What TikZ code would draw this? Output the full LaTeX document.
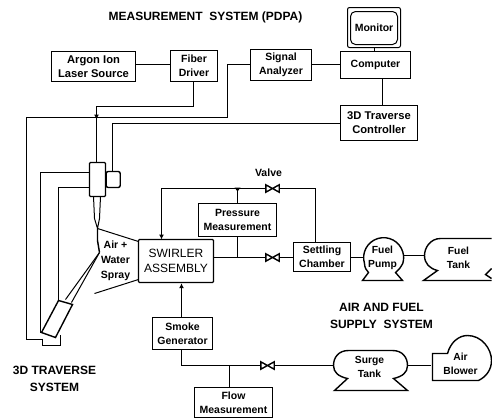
\documentclass[tikz,border=0pt]{standalone}
\usepackage{fontspec}
\setmainfont{Liberation Sans}
\usetikzlibrary{arrows.meta}
\newcommand{\valvesym}[3]{%
  \node[valvebox] (#1) at (#2,#3) {};
  \draw[conn,fill=white] (#1.north west) -- (#1.south east) -- (#1.north east) -- (#1.south west) -- cycle;
}
\tikzset{
  conn/.style={line width=1.4pt,black},
  blockbox/.style={draw,line width=1.4pt,align=center,inner sep=0pt,font=\fontsize{10.5}{14}\selectfont\bfseries},
  plainlabel/.style={align=center,inner sep=0pt,font=\fontsize{10.5}{14}\selectfont\bfseries},
  titlelabel/.style={align=center,inner sep=0pt,font=\fontsize{12}{17}\selectfont\bfseries},
  valvebox/.style={inner sep=0pt,minimum width=13pt,minimum height=7pt},
  ghost/.style={inner sep=0pt,align=center,font=\fontsize{10.3}{14}\selectfont\bfseries},
  tip/.style={-{Latex[length=5pt,width=5pt]}}
}
\begin{document}
\begin{tikzpicture}[x=1pt,y=-1pt]
\useasboundingbox (-0.5,-0.5) rectangle (491.5,417.5);
% Titles
\node[titlelabel] (t1) at (205,17) {MEASUREMENT\ \ SYSTEM (PDPA)};
\node[titlelabel] (t2) at (54,378.5) {3D TRAVERSE\\SYSTEM};
\node[titlelabel] (t3) at (381,315.5) {AIR AND FUEL\\SUPPLY\ \ SYSTEM};
% Boxes: measurement
\node[blockbox,font=\fontsize{11.2}{14}\selectfont\bfseries,minimum width=84pt,minimum height=30pt] (argon) at (93,66) {Argon Ion\\Laser Source};
\node[blockbox,minimum width=47pt,minimum height=31pt] (fiber) at (193.5,65.5) {Fiber\\Driver};
\node[blockbox,minimum width=61pt,minimum height=31pt] (signal) at (280.5,64.5) {Signal\\Analyzer};
\node[blockbox,minimum width=70pt,minimum height=27pt] (computer) at (375,64.5) {Computer};
\node[blockbox,font=\fontsize{11.2}{14}\selectfont\bfseries,minimum width=77pt,minimum height=35pt] (ctrl) at (378.5,122.5) {3D Traverse\\Controller};
\node[blockbox,line width=1pt,rounded corners=2pt,minimum width=53pt,minimum height=40pt] (monout) at (373.5,27) {};
\node[blockbox,line width=1pt,rounded corners=5pt,minimum width=47pt,minimum height=33pt] (monitor) at (373.5,27.5) {Monitor};
% Boxes: flow
\node[blockbox,font=\fontsize{12}{15}\selectfont,rounded corners=1pt,minimum width=75pt,minimum height=43pt] (swirler) at (175.5,260.5) {SWIRLER\\ASSEMBLY};
\node[blockbox,minimum width=78pt,minimum height=33pt] (pressure) at (237,219.5) {Pressure\\Measurement};
\node[blockbox,minimum width=57pt,minimum height=29pt] (settling) at (321.5,256.5) {Settling\\Chamber};
\node[blockbox,minimum width=60pt,minimum height=32pt] (smoke) at (182,333) {Smoke\\Generator};
\node[blockbox,minimum width=78pt,minimum height=30pt] (flow) at (233,402) {Flow\\Measurement};
\node[plainlabel,font=\fontsize{10.5}{15}\selectfont\bfseries] (spray) at (115,260) {Air +\\Water\\Spray};
\node[plainlabel] (valvelabel) at (268,172) {Valve};
% Pump, tanks
\node[ghost,minimum width=40pt,minimum height=40pt] (pump) at (382,257) {Fuel\\Pump};
\draw[conn] (364,263) arc[start angle=163,end angle=377,radius=20] .. controls (400,267) and (398,270) .. (395,272) -- (402,280) -- (362,280) -- (368,272) .. controls (366,270) and (364,267) .. (364,263);
\node[ghost,minimum width=64pt,minimum height=32pt] (fueltank) at (458,257) {Fuel\\Tank};
\draw[conn] (491,238) -- (440,238) .. controls (430,238) and (424,247) .. (424,255) .. controls (424,263) and (429,268) .. (437,270) -- (423,280) -- (491,280);
\draw[conn] (491,268) -- (485,274) -- (491,278);
\node[ghost,minimum width=74pt,minimum height=30pt] (surge) at (369,366) {Surge\\Tank};
\draw[conn] (348,350) -- (392,350) .. controls (402,350) and (407,357) .. (407,365) .. controls (407,372) and (402,376) .. (393,378) -- (407,390) -- (334,390) -- (347,378) .. controls (338,376) and (333,372) .. (333,365) .. controls (333,357) and (338,350) .. (348,350) -- cycle;
\node[ghost,minimum width=58pt,minimum height=28pt] (blower) at (460,363) {Air\\Blower};
\draw[conn] (432,380) -- (432,353) -- (447,353) .. controls (450,342) and (458,335) .. (467,335) .. controls (481,335) and (491,348) .. (491,360) .. controls (491,369) and (486,376) .. (478,380) -- cycle;
% Valves
\valvesym{vtop}{272}{188}
\valvesym{vmid}{272}{257}
\valvesym{vlow}{267}{365}
% Probe head
\node[draw,line width=1.4pt,inner sep=0pt,rounded corners=1pt,minimum width=16pt,minimum height=34pt] (body) at (97,179) {};
\node[draw,line width=1.4pt,inner sep=0pt,rounded corners=2pt,minimum width=14pt,minimum height=16pt,anchor=west] (side) at (105,179) {};
\draw[conn,line width=1pt] (93,196) -- (94,218) -- (97,228) -- (99,218) -- (100,196);
\coordinate (tiptop) at (97,228);
\draw[conn] (tiptop) -- (97,240) -- (99,252);
% Receiver probe
\draw[conn,line width=1pt] (99,252) -- (65,299);
\draw[conn,line width=1pt] (99,252) -- (71,302);
\draw[conn,fill=white] (58,300) -- (72,304) -- (55,337) -- (41,332) -- cycle;
\draw[conn] (42,338) -- (42,345) -- (60,345) -- (60,334);
\coordinate (rec) at (42,339);
% Spray cone
\coordinate (sprayup) at (97,228);
\coordinate (spraylow) at (94,293);
\draw[conn,line width=1pt] (sprayup) -- (138,241);
\draw[conn,line width=1pt] (spraylow) -- (138,279);
% Connectors
\draw[conn] (argon.east |- 0,64) -- (fiber.west |- 0,64);
\draw[conn] (signal.east |- 0,64) -- (computer.west |- 0,64);
\draw[conn] (monout.south -| 374,0) -- (computer.north -| 374,0);
\draw[conn,line width=1.7pt] (computer.south -| 382,0) -- (ctrl.north -| 382,0);
\draw[conn] (fiber.south -| 193,0) -- (193,106) -- (96,106) -- (96,117);
\draw[conn,tip] (96,112) -- (96,119);
\draw[conn] (96,117) -- (body.north -| 96,0);
\draw[conn] (signal.west |- 0,64) -- (227,64) -- (227,117) -- (26,117) -- (26,339) -- (rec);
\draw[conn] (ctrl.west |- 0,123) -- (112,123) -- (side.north -| 112,0);
\draw[conn] (body.west |- 0,172) -- (40,172) -- (40,332);
\draw[conn] (body.west |- 0,187) -- (58,187) -- (58,300);
\draw[conn,tip] (vtop) -- (161,188) -- (161,239);
\draw[conn] (vtop) -- (315,188) -- (settling.north -| 315,0);
\draw[conn] (pressure.north) -- (237,188);
\fill (237,191) -- (234,187) -- (240,187) -- cycle;
\draw[conn] (pressure.south) -- (237,257);
\draw[conn] (swirler.east |- 0,257) -- (vmid);
\draw[conn] (vmid) -- (settling.west |- 0,257);
\draw[conn] (settling.east |- 0,257) -- (363,257);
\draw[conn] (403,255) -- (424,255);
\draw[conn,tip] (smoke.north -| 181,0) -- (swirler.south -| 181,0);
\draw[conn] (smoke.south -| 181,0) -- (181,365) -- (vlow);
\draw[conn] (vlow) -- (333,365);
\draw[conn] (flow.north -| 229,0) -- (229,365);
\draw[conn] (407,365) -- (blower.west |- 0,365);
\end{tikzpicture}
\end{document}
